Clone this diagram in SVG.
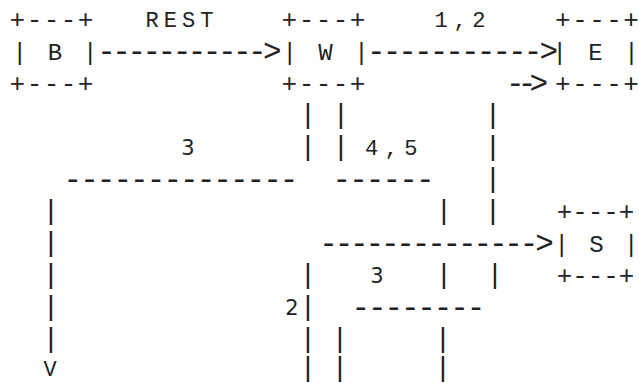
<svg xmlns="http://www.w3.org/2000/svg" width="639" height="383" viewBox="0 0 639 383">
<style>
text{font-family:"Liberation Mono","DejaVu Sans Mono",monospace;font-size:22px;fill:#222}
.edge{font-size:26px}
.side{font-size:24px}
.dash{font-size:31px}
.bar{font-size:28px;text-anchor:middle}
.c{text-anchor:middle}
.s{font-family:"DejaVu Sans","Liberation Sans",sans-serif;font-size:21px;text-anchor:middle}
</style>
<rect width="639" height="383" fill="#fff"/>
<g id="node-B">
<text class="edge" x="9.6" y="28" textLength="83.75" lengthAdjust="spacing">+---+</text>
<text class="side" x="12.5" y="60" textLength="85" lengthAdjust="spacing">| B |</text>
<text class="edge" x="9.6" y="92" textLength="83.75" lengthAdjust="spacing">+---+</text>
</g>
<g id="node-W">
<text class="edge" x="281.6" y="28" textLength="83.75" lengthAdjust="spacing">+---+</text>
<text class="side" x="282.4" y="60" textLength="86.25" lengthAdjust="spacing">| W |</text>
<text class="edge" x="281.6" y="92" textLength="83.75" lengthAdjust="spacing">+---+</text>
</g>
<g id="node-E">
<text class="edge" x="555.1" y="28" textLength="83.75" lengthAdjust="spacing">+---+</text>
<text class="side" x="552.4" y="60" textLength="86.25" lengthAdjust="spacing">| E |</text>
<text class="edge" x="555.1" y="92" textLength="83.75" lengthAdjust="spacing">+---+</text>
</g>
<g id="node-S">
<text class="edge" x="556.75" y="220" textLength="77.5" lengthAdjust="spacing">+---+</text>
<text class="side" x="554.6" y="252" textLength="83.75" lengthAdjust="spacing">| S |</text>
<text class="edge" x="556.75" y="284" textLength="77.5" lengthAdjust="spacing">+---+</text>
</g>
<g id="connectors">
<text class="dash" x="97.3" y="61" textLength="184.4" lengthAdjust="spacing">-----------&gt;</text>
<text class="dash" x="367" y="61" textLength="191" lengthAdjust="spacing">-----------&gt;</text>
<text class="dash" x="506" y="93" textLength="42" lengthAdjust="spacing">--&gt;</text>
<text class="dash" x="63.6" y="189" textLength="234.8" lengthAdjust="spacing">--------------</text>
<text class="dash" x="332.5" y="189" textLength="102" lengthAdjust="spacing">------</text>
<text class="dash" x="319.2" y="253" textLength="234.6" lengthAdjust="spacing">--------------&gt;</text>
<text class="dash" x="351.6" y="317" textLength="133.7" lengthAdjust="spacing">--------</text>
<g class="bars">
<text class="bar" x="308" y="123">|</text><text class="bar" x="341" y="123">|</text><text class="bar" x="493" y="123">|</text>
<text class="bar" x="308" y="155">|</text><text class="bar" x="341" y="155">|</text><text class="bar" x="493" y="155">|</text>
<text class="bar" x="493" y="187">|</text>
<text class="bar" x="51" y="219">|</text><text class="bar" x="444" y="219">|</text><text class="bar" x="493" y="219">|</text>
<text class="bar" x="51" y="251">|</text>
<text class="bar" x="51" y="283">|</text><text class="bar" x="308" y="283">|</text><text class="bar" x="444" y="283">|</text><text class="bar" x="495" y="283">|</text>
<text class="bar" x="51" y="315">|</text><text class="bar" x="308" y="315">|</text>
<text class="bar" x="51" y="347">|</text><text class="bar" x="308" y="347">|</text><text class="bar" x="340" y="347">|</text><text class="bar" x="443" y="347">|</text>
<text class="bar" x="308" y="376">|</text><text class="bar" x="340" y="376">|</text><text class="bar" x="443" y="376">|</text>
</g>
<text class="c" x="50" y="376">V</text>
</g>
<g id="labels">
<text x="145.5" y="27" textLength="68" lengthAdjust="spacing">REST</text>
<text x="434.5" y="27" textLength="51" lengthAdjust="spacing">1,2</text>
<text class="s" x="188" y="155">3</text>
<text x="365" y="155" textLength="52.5" lengthAdjust="spacing">4,5</text>
<text class="s" x="377" y="283">3</text>
<text class="s" x="292" y="315">2</text>
</g>
</svg>
